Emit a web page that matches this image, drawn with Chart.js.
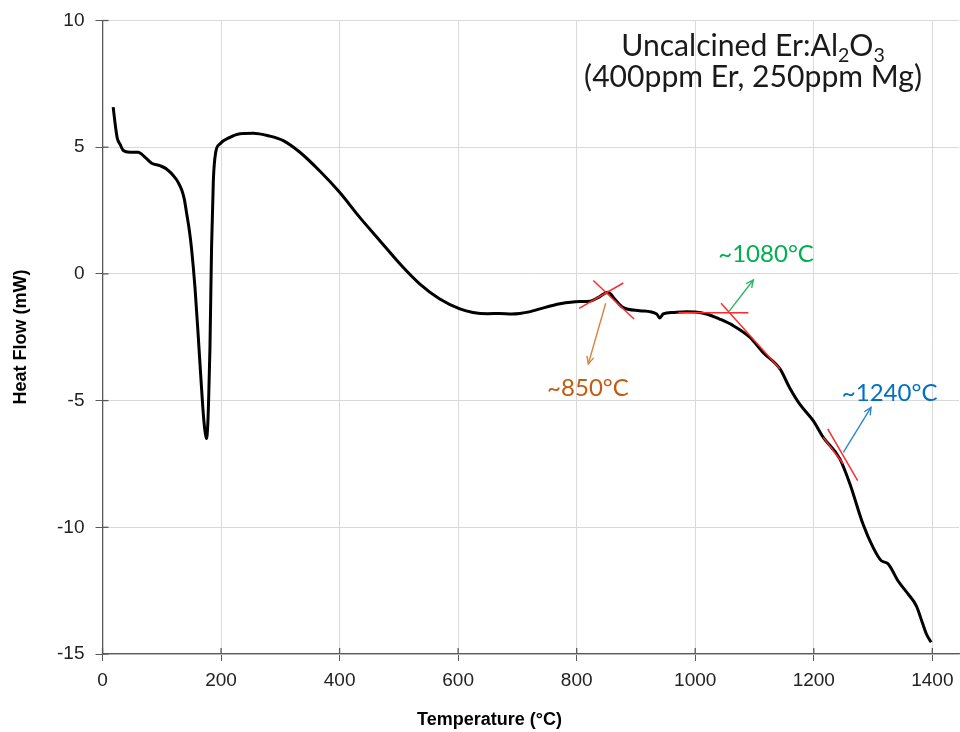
<!DOCTYPE html>
<html>
<head>
<meta charset="utf-8">
<script src="https://cdn.jsdelivr.net/npm/chart.js@4/dist/chart.umd.min.js"></script>
<style>
  html, body { margin: 0; padding: 0; background: #ffffff; }
  #wrap { width: 960px; height: 732px; }
</style>
</head>
<body>
<div id="wrap"><canvas id="c" width="960" height="732"></canvas></div>
<script>
// ---------- data ----------
const temperatureC = [18, 22, 25, 30, 35, 46, 60, 72, 83, 97, 108, 122, 128, 134, 138, 142, 146, 150, 156, 162, 167, 171, 173.5, 175.5, 177.5, 179, 181.3, 184, 187, 191, 198, 215, 232, 254, 280, 305, 333, 367, 400, 434, 468, 502, 535, 569, 603, 625, 650, 670, 690, 704, 720, 738, 772, 805, 822, 835, 853, 864, 878, 906, 935, 940, 946, 963, 985, 1000, 1019, 1041, 1064, 1092, 1114, 1143, 1159, 1176, 1199, 1216, 1244, 1261, 1283, 1300, 1314, 1325, 1342, 1359, 1373, 1384, 1390, 1398];
const heatFlowMW = [6.58, 5.8, 5.35, 5.1, 4.87, 4.80, 4.80, 4.60, 4.37, 4.27, 4.14, 3.81, 3.6, 3.29, 2.95, 2.38, 1.8, 1.05, -0.53, -2.63, -4.48, -5.79, -6.3, -6.5, -6.0, -5.0, -2.9, 1.05, 3.68, 4.80, 5.13, 5.39, 5.53, 5.55, 5.45, 5.26, 4.80, 4.05, 3.22, 2.23, 1.31, 0.39, -0.39, -0.99, -1.38, -1.52, -1.57, -1.56, -1.58, -1.56, -1.5, -1.38, -1.18, -1.09, -1.08, -0.95, -0.72, -0.99, -1.32, -1.45, -1.58, -1.74, -1.58, -1.52, -1.49, -1.5, -1.58, -1.78, -2.04, -2.50, -3.09, -3.75, -4.48, -5.13, -5.79, -6.45, -7.30, -8.29, -9.87, -10.79, -11.32, -11.43, -12.11, -12.63, -13.10, -13.82, -14.21, -14.54];

const xTickValues = [0, 200, 400, 600, 800, 1000, 1200, 1400];
const yTickValues = [-15, -10, -5, 0, 5, 10];

// annotation geometry in data units (temperature, heat flow)
const tangent850A = [[804, -1.36], [878.7, -0.36]];
const tangent850B = [[828, -0.26], [896.8, -1.78]];
const tangent1080H = [[971.5, -1.53], [1089.6, -1.53]];
const tangent1080T = [[1043.5, -1.16], [1143, -3.75]];
const tangent1240A = [[1223.5, -6.12], [1274, -8.16]];
const tangent1240B = [[1216, -6.45], [1250, -7.50]];

const arrow850 = [[849, -1.16], [819.6, -3.55]];
const arrow1080 = [[1057, -1.48], [1098, -0.24]];
const arrow1240 = [[1249.9, -7.04], [1296.6, -5.27]];

const label850 = { text: '~850°C', at: [819, -4.80] };
const label1080 = { text: '~1080°C', at: [1119.5, 0.46] };
const label1240 = { text: '~1240°C', at: [1328, -5.00] };
const titleLine1At = [1097.5, 8.6];
const titleLine2 = { text: '(400ppm Er, 250ppm Mg)', at: [1097.5, 7.37] };

// ---------- drawing helpers ----------
const tangents = [tangent850A, tangent850B, tangent1080H, tangent1080T, tangent1240A, tangent1240B];
const arrows = [
  { seg: arrow850, color: '#D4833F' },
  { seg: arrow1080, color: '#2DB562' },
  { seg: arrow1240, color: '#2F86CF' }
];
const labels = [
  { l: label850, color: '#C55A11' },
  { l: label1080, color: '#00B050' },
  { l: label1240, color: '#0070C0' }
];
const annFont = 'Lato, "Open Sans", sans-serif';

const annotationPlugin = {
  id: 'annot',
  afterDatasetsDraw(chart) {
    const ctx = chart.ctx;
    const xs = chart.scales.x, ys = chart.scales.y;
    const px = p => [xs.getPixelForValue(p[0]), ys.getPixelForValue(p[1])];
    const ca = chart.chartArea;
    ctx.save();

    // inner halves of the crossing tick marks
    ctx.strokeStyle = '#595959';
    ctx.lineWidth = 1.3;
    xTickValues.forEach(v => {
      const x = xs.getPixelForValue(v);
      ctx.beginPath(); ctx.moveTo(x, ca.bottom); ctx.lineTo(x, ca.bottom - 6); ctx.stroke();
    });
    yTickValues.forEach(v => {
      const y = ys.getPixelForValue(v);
      ctx.beginPath(); ctx.moveTo(ca.left, y); ctx.lineTo(ca.left + 6, y); ctx.stroke();
    });

    // tangent lines
    ctx.strokeStyle = '#FF2B2B';
    ctx.lineWidth = 1.5;
    tangents.forEach(t => {
      const a = px(t[0]), b = px(t[1]);
      ctx.beginPath(); ctx.moveTo(a[0], a[1]); ctx.lineTo(b[0], b[1]); ctx.stroke();
    });

    // arrows
    arrows.forEach(ar => {
      const a = px(ar.seg[0]), b = px(ar.seg[1]);
      ctx.strokeStyle = ar.color;
      ctx.lineWidth = 1.4;
      ctx.beginPath(); ctx.moveTo(a[0], a[1]); ctx.lineTo(b[0], b[1]); ctx.stroke();
      const ang = Math.atan2(b[1] - a[1], b[0] - a[0]);
      const hl = 8, hw = 0.45;
      ctx.beginPath();
      ctx.moveTo(b[0] - hl * Math.cos(ang - hw), b[1] - hl * Math.sin(ang - hw));
      ctx.lineTo(b[0], b[1]);
      ctx.lineTo(b[0] - hl * Math.cos(ang + hw), b[1] - hl * Math.sin(ang + hw));
      ctx.stroke();
    });

    // labels
    ctx.textAlign = 'center';
    ctx.textBaseline = 'alphabetic';
    labels.forEach(o => {
      const p = px(o.l.at);
      ctx.fillStyle = o.color;
      ctx.font = '24px ' + annFont;
      ctx.fillText(o.l.text, p[0], p[1]);
    });

    // title box text
    ctx.fillStyle = '#1a1a1a';
    ctx.font = '100px ' + annFont;
    const w100 = ctx.measureText(titleLine2.text).width;
    const fs = 100 * 338 / w100;
    ctx.font = fs + 'px ' + annFont;
    const p2 = px(titleLine2.at);
    ctx.fillText(titleLine2.text, p2[0], p2[1]);

    // line 1 with subscripts
    const p1 = px(titleLine1At);
    const subFs = fs * 0.65;
    const parts = [
      { t: 'Uncalcined Er:Al', sub: false },
      { t: '2', sub: true },
      { t: 'O', sub: false },
      { t: '3', sub: true }
    ];
    let total = 0;
    parts.forEach(pt => {
      ctx.font = (pt.sub ? subFs : fs) + 'px ' + annFont;
      pt.w = ctx.measureText(pt.t).width;
      total += pt.w;
    });
    let cx = p1[0] - total / 2;
    ctx.textAlign = 'left';
    parts.forEach(pt => {
      ctx.font = (pt.sub ? subFs : fs) + 'px ' + annFont;
      ctx.fillText(pt.t, cx, p1[1] + (pt.sub ? fs * 0.2 : 0));
      cx += pt.w;
    });

    // axis titles
    ctx.fillStyle = '#000000';
    ctx.font = 'bold 18px "Liberation Sans", Arial, sans-serif';
    ctx.textAlign = 'center';
    ctx.fillText('Temperature (°C)', 489.5, 725);
    ctx.save();
    ctx.translate(26, 337);
    ctx.rotate(-Math.PI / 2);
    ctx.fillText('Heat Flow (mW)', 0, 0);
    ctx.restore();

    ctx.restore();
  }
};

const tickFont = { family: '"Liberation Sans", Arial, sans-serif', size: 19 };

new Chart(document.getElementById('c'), {
  type: 'line',
  data: {
    datasets: [{
      data: temperatureC.map((t, i) => ({ x: t, y: heatFlowMW[i] })),
      borderColor: '#000000',
      borderWidth: 3,
      pointRadius: 0,
      fill: false,
      cubicInterpolationMode: 'monotone'
    }]
  },
  options: {
    responsive: false,
    animation: false,
    devicePixelRatio: 1,
    layout: { padding: { top: 20.5, right: 1, left: 0, bottom: 0 } },
    plugins: { legend: { display: false }, tooltip: { enabled: false } },
    scales: {
      x: {
        type: 'linear',
        min: 0,
        max: 1445,
        afterBuildTicks: s => { s.ticks = xTickValues.map(v => ({ value: v })); },
        afterFit: s => { s.height = 78; s.paddingRight = 0; s.paddingLeft = 0; },
        ticks: { color: '#222222', font: tickFont, padding: 8, maxRotation: 0, callback: v => String(v) },
        grid: { color: '#d9d9d9', lineWidth: 1, tickLength: 7, tickColor: '#595959', drawOnChartArea: true },
        border: { display: true, color: '#595959', width: 1.3 }
      },
      y: {
        type: 'linear',
        min: -15,
        max: 10,
        afterBuildTicks: s => { s.ticks = yTickValues.map(v => ({ value: v })); },
        afterFit: s => { s.width = 102.5; s.paddingTop = 0; s.paddingBottom = 0; },
        ticks: { color: '#222222', font: tickFont, padding: 11, callback: v => String(v) },
        grid: { color: '#d9d9d9', lineWidth: 1, tickLength: 7, tickColor: '#595959' },
        border: { display: true, color: '#595959', width: 1.3 }
      }
    }
  },
  plugins: [annotationPlugin]
});
</script>
</body>
</html>
